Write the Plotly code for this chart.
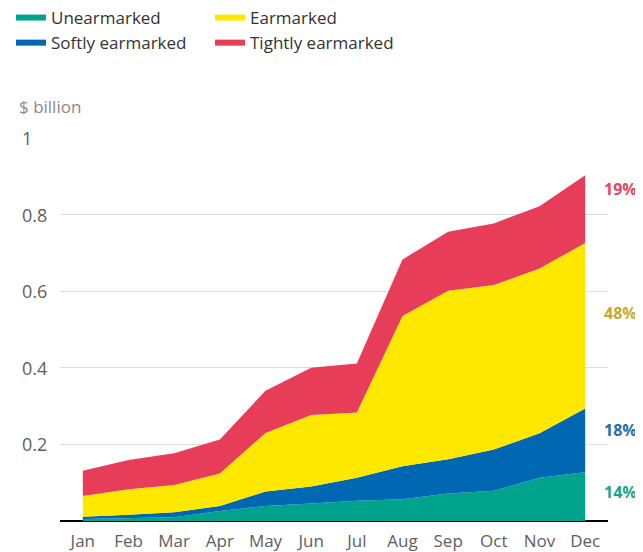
import plotly.graph_objects as go

months = ["Jan", "Feb", "Mar", "Apr", "May", "Jun", "Jul", "Aug", "Sep", "Oct", "Nov", "Dec"]
unearmarked = [0.005, 0.008, 0.010, 0.026, 0.039, 0.046, 0.053, 0.057, 0.072, 0.079, 0.113, 0.127]
softly = [0.006, 0.008, 0.013, 0.013, 0.038, 0.044, 0.060, 0.086, 0.089, 0.108, 0.116, 0.167]
earmarked = [0.054, 0.067, 0.071, 0.085, 0.153, 0.187, 0.170, 0.392, 0.440, 0.429, 0.430, 0.432]
tightly = [0.066, 0.076, 0.083, 0.089, 0.110, 0.123, 0.128, 0.148, 0.154, 0.161, 0.163, 0.177]

series_names = ["Unearmarked", "Softly earmarked", "Earmarked", "Tightly earmarked"]
series_values = [unearmarked, softly, earmarked, tightly]
colors = ["#00a38c", "#0068b3", "#ffe800", "#e83d59"]
share_labels = ["14%", "18%", "48%", "19%"]
share_label_colors = ["#1aa38c", "#1f6db0", "#c9a82b", "#e8455d"]
share_label_y = [0.076, 0.237, 0.543, 0.866]
legend_ids = ["legend", "legend", "legend2", "legend2"]

y_ticks = [0.2, 0.4, 0.6, 0.8, 1.0]
y_tick_text = ["0.2", "0.4", "0.6", "0.8", "1"]

FONT = "Open Sans"
# the page body adds an 8px margin, so the figure is drawn 8px smaller and shifted
W, H = 635, 544
L, R, T, B = 52, 35, 130, 31
PW = W - L - R
PH = H - T - B

fig = go.Figure()
for name, vals, col in zip(series_names, series_values, colors):
    fig.add_trace(go.Scatter(
        x=months, y=vals, name=name, stackgroup="one", mode="lines",
        line=dict(width=0, color=col), fillcolor=col, showlegend=False,
        hoverinfo="x+y+name",
    ))
# legend entries drawn as thick line swatches
for name, col, lg in zip(series_names, colors, legend_ids):
    fig.add_trace(go.Scatter(
        x=[None], y=[None], name=name, mode="lines",
        line=dict(width=6, color=col), legend=lg, showlegend=True,
    ))

for txt, yv in zip(y_tick_text, y_ticks):
    fig.add_annotation(xref="paper", yref="y", x=(12 - L) / PW, y=yv, text=txt,
                       showarrow=False, xanchor="left", yanchor="middle",
                       font=dict(family=FONT, size=18, color="#5e5e5e"))
fig.add_annotation(xref="paper", yref="paper", x=(9 - L) / PW, y=(H - B - 98) / PH,
                   text="$ billion", showarrow=False, xanchor="left", yanchor="middle",
                   font=dict(family=FONT, size=17, color="#8a8a8a"))

for txt, col, yv in zip(share_labels, share_label_colors, share_label_y):
    fig.add_annotation(xref="paper", yref="y", x=(594 - L) / PW, y=yv, text="<b>" + txt + "</b>",
                       showarrow=False, xanchor="left", yanchor="middle",
                       font=dict(family=FONT, size=16, color=col))

legend_common = dict(xref="paper", yref="paper", xanchor="left", yanchor="top",
                     traceorder="normal", font=dict(family=FONT, size=17, color="#333333"),
                     bgcolor="rgba(0,0,0,0)", tracegroupgap=0, itemwidth=30)
legend_top = 1 + (T + 8) / PH

fig.update_layout(
    width=W, height=H,
    margin=dict(l=L, r=R, t=T, b=B, autoexpand=False),
    paper_bgcolor="white", plot_bgcolor="white",
    font=dict(family=FONT, size=16, color="#5e5e5e"),
    legend=dict(x=(3 - L) / PW, y=legend_top, **legend_common),
    legend2=dict(x=(202 - L) / PW, y=legend_top, **legend_common),
    xaxis=dict(range=[-0.5, 11.5], showgrid=False, showline=False, ticks="",
               tickfont=dict(family=FONT, size=17, color="#5e5e5e"), ticklabelstandoff=8,
               tickangle=0, fixedrange=True),
    yaxis=dict(range=[0, 1.0], tickvals=y_ticks, showticklabels=False, showgrid=True,
               gridcolor="#dddddd", gridwidth=1, zeroline=True, zerolinecolor="#000000",
               zerolinewidth=2, showline=False, fixedrange=True),
    hovermode="x",
)

fig.write_html("out.html")
